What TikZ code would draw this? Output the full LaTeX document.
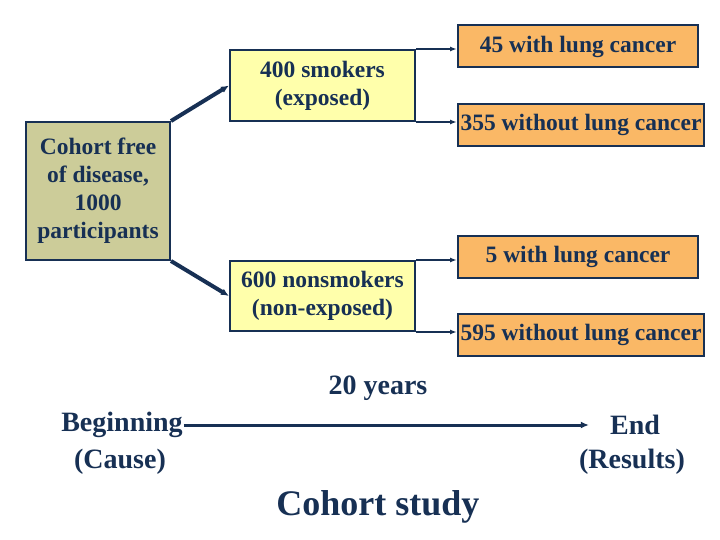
\documentclass[tikz,border=0pt]{standalone}
\usepackage{fontspec}
\setmainfont{Liberation Serif}
\usetikzlibrary{arrows.meta}
\usetikzlibrary{positioning}
\definecolor{navyink}{rgb}{0.09,0.19,0.33}
\definecolor{olivebox}{rgb}{0.80,0.80,0.60}
\definecolor{paleyellow}{rgb}{1.00,1.00,0.67}
\definecolor{orangebox}{rgb}{0.98,0.72,0.40}

\begin{document}
\begin{tikzpicture}[x=1pt,y=-1pt,line join=miter,
  txt/.style={text=navyink,font=\bfseries\fontsize{23.5}{28}\selectfont,align=center},
  big/.style={txt,font=\bfseries\fontsize{28}{34}\selectfont},
  box/.style={txt,draw=navyink,line width=2pt,inner sep=0pt},
  grp/.style={box,fill=paleyellow,minimum width=185pt},
  res/.style={box,fill=orangebox,minimum height=42pt},
  link/.style={draw=navyink,line width=2pt,-{Latex[length=7pt,width=5pt]}},
  fat/.style={draw=navyink,line width=4pt,-{Latex[length=8pt,width=7pt]}}]
\useasboundingbox (0,0) rectangle (720,540);
\node[box,fill=olivebox,minimum width=144pt,minimum height=138pt] (cohort) at (98,191) {Cohort free\\of disease,\\1000\\participants};
\node[grp,minimum height=71pt] (smokers) at (322.5,85.5) {400 smokers\\(exposed)};
\node[grp,minimum height=70pt] (nonsmokers) at (322.5,296) {600 nonsmokers\\(non-exposed)};
\node[res,minimum width=240pt] (smkcancer) at (578,46.5) {45 with lung cancer};
\node[res,minimum width=246pt] (smkfree) at (581,125) {355 without lung cancer};
\node[res,minimum width=240pt] (nonscancer) at (578,257) {5 with lung cancer};
\node[res,minimum width=246pt] (nonsfree) at (581,335) {595 without lung cancer};
\draw[fat] (cohort.north east) -- (smokers.west);
\draw[fat] (cohort.south east) -- (nonsmokers.west);
\draw[link] (smokers.north east) -- (smokers.north east -| smkcancer.west);
\draw[link] (smokers.south east) -- (smokers.south east -| smkfree.west);
\draw[link] (nonsmokers.north east) -- (nonsmokers.north east -| nonscancer.west);
\draw[link] (nonsmokers.south east) -- (nonsmokers.south east -| nonsfree.west);
\node[big,inner sep=1pt] (begin) at (122,425) {Beginning};
\node[big] (cause) at (120,462) {(Cause)};
\node[big,inner sep=1pt] (endpt) at (635,425) {End};
\node[big] (results) at (632,462) {(Results)};
\node[big] (years) at (378,388) {20 years};
\draw[fat,line width=3pt] (begin.east) -- ([xshift=-20pt]endpt.west);
\node[txt,font=\bfseries\fontsize{36}{42}\selectfont] (title) at (378,507) {Cohort study};
\end{tikzpicture}
\end{document}
